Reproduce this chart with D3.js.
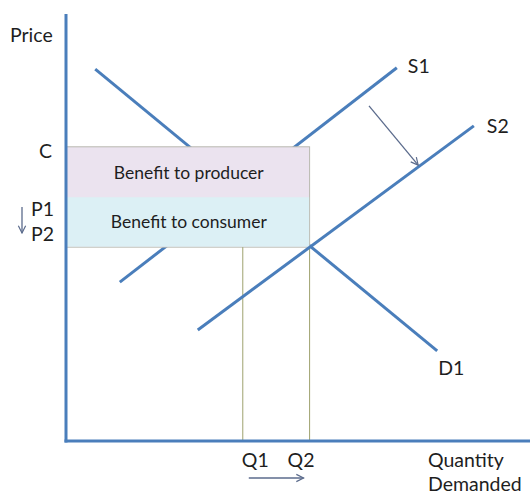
<!DOCTYPE html>
<html>
<head>
<meta charset="utf-8">
<script src="https://cdn.jsdelivr.net/npm/d3@7"></script>
<style>
  body { margin: 0; background: #fff; }
  text { font-family: Lato, "Open Sans", sans-serif; fill: #1e1e1e; }
</style>
</head>
<body>
<div id="chart"></div>
<script>
// curves, in chart units (0..100 on both axes)
var demandD1 = [[6.3, 87.1], [80.0, 21.1]];
var supplyS1 = [[11.6, 37.2], [71.3, 87.4]];
var supplyS2 = [[28.4, 26.0], [87.9, 73.8]];
var shiftArrow = [[65.3, 78.5], [75.9, 64.6]];

// price levels and quantities
var priceLevels = {C: 68.9, P1: 57.1, P2: 45.4};
var quantities = [38.1, 52.5];
var quantityLabels = ["Q1", "Q2"];

var curveLabels = ["S1", "S2", "D1"];
var areaLabels = ["Benefit to producer", "Benefit to consumer"];

var width = 530, height = 495;

var x = d3.scaleLinear().domain([0, 100]).range([66, 530]);
var y = d3.scaleLinear().domain([0, 100]).range([441, 14]);

var svg = d3.select("#chart").append("svg")
  .attr("width", width)
  .attr("height", height);

var defs = svg.append("defs");
defs.append("marker")
  .attr("id", "arr")
  .attr("viewBox", "0 0 10 10")
  .attr("refX", 9).attr("refY", 5)
  .attr("markerWidth", 7).attr("markerHeight", 7)
  .attr("orient", "auto")
  .append("path")
    .attr("d", "M1,1 L9,5 L1,9")
    .attr("fill", "none")
    .attr("stroke", "#5b6b8c")
    .attr("stroke-width", 1.3);

var line = d3.line().x(function(d) { return x(d[0]); }).y(function(d) { return y(d[1]); });
var blue = "#4a7ebb";

// curves behind the shaded box
[supplyS1, demandD1].forEach(function(c) {
  svg.append("path").attr("d", line(c))
    .attr("stroke", blue).attr("stroke-width", 3).attr("fill", "none");
});

// shaded areas
var boxW = x(quantities[1]) - x(0);
svg.append("rect")
  .attr("x", x(0)).attr("y", y(priceLevels.C))
  .attr("width", boxW)
  .attr("height", y(priceLevels.P2) - y(priceLevels.C))
  .attr("fill", "#ebe3ef").attr("stroke", "#b9b9b0").attr("stroke-width", 1);
svg.append("rect")
  .attr("x", x(0) + 0.5).attr("y", y(priceLevels.P1))
  .attr("width", boxW - 1)
  .attr("height", y(priceLevels.P2) - y(priceLevels.P1) - 0.5)
  .attr("fill", "#dcf0f5");

var midX = (x(0) + x(quantities[1])) / 2 + 1;
svg.append("text").attr("x", midX).attr("y", y(priceLevels.C) + 32)
  .attr("text-anchor", "middle").attr("font-size", 17.5).text(areaLabels[0]);
svg.append("text").attr("x", midX).attr("y", y(priceLevels.P1) + 31)
  .attr("text-anchor", "middle").attr("font-size", 17.5).text(areaLabels[1]);

// quantity drop lines
quantities.forEach(function(q) {
  svg.append("line")
    .attr("x1", x(q)).attr("x2", x(q))
    .attr("y1", y(priceLevels.P2)).attr("y2", y(0))
    .attr("stroke", "#9ea26e").attr("stroke-width", 1);
});

// new supply curve
svg.append("path").attr("d", line(supplyS2))
  .attr("stroke", blue).attr("stroke-width", 3).attr("fill", "none");

// axes
svg.append("line")
  .attr("x1", x(0)).attr("x2", x(0)).attr("y1", y(100)).attr("y2", y(0) + 1.5)
  .attr("stroke", blue).attr("stroke-width", 3);
svg.append("line")
  .attr("x1", x(0) - 1.5).attr("x2", x(100)).attr("y1", y(0)).attr("y2", y(0))
  .attr("stroke", blue).attr("stroke-width", 3);

// shift arrows
svg.append("path").attr("d", line(shiftArrow))
  .attr("stroke", "#5b6b8c").attr("stroke-width", 1.3).attr("fill", "none")
  .attr("marker-end", "url(#arr)");
svg.append("line")
  .attr("x1", x(quantities[0]) + 6).attr("x2", x(quantities[1]) - 6)
  .attr("y1", 478).attr("y2", 478)
  .attr("stroke", "#5b6b8c").attr("stroke-width", 1.3)
  .attr("marker-end", "url(#arr)");
svg.append("line")
  .attr("x1", 22).attr("x2", 22)
  .attr("y1", 207).attr("y2", 233)
  .attr("stroke", "#5b6b8c").attr("stroke-width", 1.3)
  .attr("marker-end", "url(#arr)");

// labels
var fs = 19.5;
svg.append("text").attr("x", 10).attr("y", 42).attr("font-size", fs).text("Price");
svg.append("text").attr("x", 52).attr("y", y(priceLevels.C) + 11)
  .attr("text-anchor", "end").attr("font-size", fs).text("C");
svg.append("text").attr("x", 54).attr("y", 216)
  .attr("text-anchor", "end").attr("font-size", fs).text("P1");
svg.append("text").attr("x", 54).attr("y", y(priceLevels.P2) - 6)
  .attr("text-anchor", "end").attr("font-size", fs).text("P2");

svg.append("text").attr("x", x(supplyS1[1][0]) + 11).attr("y", y(supplyS1[1][1]) + 5)
  .attr("font-size", fs).text(curveLabels[0]);
svg.append("text").attr("x", x(supplyS2[1][0]) + 13).attr("y", y(supplyS2[1][1]) + 7)
  .attr("font-size", fs).text(curveLabels[1]);
svg.append("text").attr("x", x(demandD1[1][0]) + 1).attr("y", y(demandD1[1][1]) + 24)
  .attr("font-size", fs).text(curveLabels[2]);

quantityLabels.forEach(function(l, i) {
  svg.append("text")
    .attr("x", i === 0 ? x(quantities[i]) - 1 : x(quantities[i]) - 22)
    .attr("y", 467).attr("font-size", fs).text(l);
});

svg.append("text").attr("x", 428).attr("y", 467).attr("font-size", fs).text("Quantity");
svg.append("text").attr("x", 428).attr("y", 491).attr("font-size", fs).text("Demanded");
</script>
</body>
</html>
